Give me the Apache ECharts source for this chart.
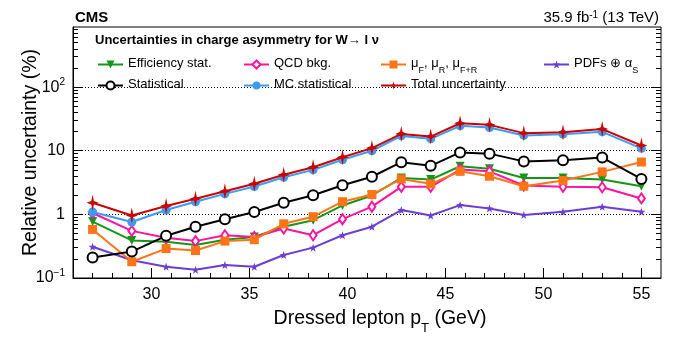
<!DOCTYPE html>
<html><head><meta charset="utf-8">
<script src="https://cdn.jsdelivr.net/npm/echarts@6/dist/echarts.min.js"></script>
<style>html,body{margin:0;padding:0;background:#fff}#c{width:689px;height:339px}</style>
</head><body><div id="c"></div>
<script>
const ptBins = [27, 29, 30.75, 32.25, 33.75, 35.25, 36.75, 38.25, 39.75, 41.25, 42.75, 44.25, 45.75, 47.25, 49, 51, 53, 55];
const effStat = [0.77, 0.39, 0.37, 0.33, 0.40, 0.44, 0.64, 0.81, 1.38, 1.98, 3.74, 3.52, 5.7, 5.2, 3.74, 3.74, 3.52, 2.77];
const qcdBkg = [1.05, 0.55, 0.43, 0.38, 0.47, 0.44, 0.60, 0.47, 0.84, 1.32, 2.71, 2.71, 5.05, 4.75, 2.84, 2.71, 2.67, 1.78];
const scaleUnc = [0.58, 0.18, 0.29, 0.27, 0.38, 0.40, 0.71, 0.92, 1.58, 2.05, 3.6, 3.02, 4.75, 3.97, 2.77, 3.4, 4.65, 6.65];
const pdfUnc = [0.31, 0.19, 0.15, 0.135, 0.16, 0.15, 0.23, 0.30, 0.47, 0.64, 1.17, 0.96, 1.4, 1.24, 0.98, 1.1, 1.32, 1.1];
const statUnc = [0.21, 0.26, 0.46, 0.64, 0.84, 1.09, 1.52, 2.0, 2.87, 3.9, 6.6, 5.8, 9.4, 9.0, 6.8, 7.1, 7.8, 3.6];
const mcStat = [1.09, 0.76, 1.17, 1.58, 2.1, 2.74, 3.83, 5.0, 7.2, 10, 17.1, 15.4, 24.6, 23.2, 17.4, 18.2, 19.8, 10.9];
const totalUnc = [1.52, 0.96, 1.35, 1.76, 2.31, 3.02, 4.2, 5.5, 7.9, 11, 18.4, 16.7, 27, 25.5, 18.9, 19.6, 21.9, 12.1];

const xMajor = [30, 35, 40, 45, 50, 55];
const xMinor = [27,28,29,31,32,33,34,36,37,38,39,41,42,43,44,46,47,48,49,51,52,53,54];
const yMajor = [0.1, 1, 10, 100];
const yMinor = [0.2,0.3,0.4,0.5,0.6,0.7,0.8,0.9,2,3,4,5,6,7,8,9,20,30,40,50,60,70,80,90,200,300,400,500,600,700,800];
const yLabelText = {0.1: '{b|10}{s|−1}', 1: '{b|1}', 10: '{b|10}', 100: '{b|10}{s|2}'};

const FONT = 'Liberation Sans';
const YMIN = 0.1, YMAX = 880, XMIN = 26, XMAX = 56;

const STAR5 = 'path://M0,-10 L2.35,-3.24 L9.51,-3.09 L3.8,1.24 L5.88,8.09 L0,4 L-5.88,8.09 L-3.8,1.24 L-9.51,-3.09 L-2.35,-3.24 Z';
const STAR4 = 'path://M0,-10 L2.2,-2.2 L10,0 L2.2,2.2 L0,10 L-2.2,2.2 L-10,0 L-2.2,-2.2 Z';

const seriesDefs = [
  {name: 'Efficiency stat.', data: effStat, color: '#14961a', symbol: 'triangle', size: 9, rotate: 180, z: 3},
  {name: 'QCD bkg.', data: qcdBkg, color: '#ff14a0', symbol: 'emptyDiamond', size: [7, 10], z: 3},
  {name: 'scale', data: scaleUnc, color: '#ff7418', symbol: 'rect', size: 9, z: 4},
  {name: 'pdf', data: pdfUnc, color: '#6a3fd2', symbol: STAR5, size: 8, z: 3},
  {name: 'Statistical', data: statUnc, color: '#000000', symbol: 'emptyCircle', size: 10, z: 5},
  {name: 'MC statistical', data: mcStat, color: '#3d9cf2', symbol: 'circle', size: 9, z: 6},
  {name: 'Total uncertainty', data: totalUnc, color: '#cc0000', symbol: STAR4, size: [12, 16], z: 7}
];

const series = seriesDefs.map(d => ({
  name: d.name, type: 'line', xAxisIndex: 0, yAxisIndex: 0,
  data: ptBins.map((x, i) => [x, d.data[i]]),
  symbol: d.symbol, symbolSize: d.size, symbolRotate: d.rotate || 0,
  showSymbol: true, z: d.z, animation: false,
  lineStyle: {color: d.color, width: 2},
  itemStyle: {color: d.color, borderColor: d.color, borderWidth: d.symbol.indexOf('empty') === 0 ? 1.1 : 0},
  emphasis: {disabled: true}
}));

const legendFmt = {
  'scale': '{m|μ}{s|F}{m|, μ}{s|R}{m|, μ}{s|F+R}',
  'pdf': '{m|PDFs ⊕ α}{s|S}'
};
const legendPos = [
  ['Efficiency stat.', 92, 61], ['QCD bkg.', 238, 61], ['scale', 375, 61], ['pdf', 538, 61],
  ['Statistical', 92, 82], ['MC statistical', 238, 82], ['Total uncertainty', 375, 82]
];
const legends = legendPos.map(([n, x, y]) => ({
  data: [n], left: x, top: y - 9, itemWidth: 25, itemHeight: 10, itemGap: 0,
  selectedMode: false,
  formatter: legendFmt[n] ? () => legendFmt[n] : '{m|{name}}',
  textStyle: {
    fontFamily: FONT, color: '#000', fontSize: 13,
    rich: {
      m: {fontFamily: FONT, fontSize: 13, color: '#000', lineHeight: 15, verticalAlign: 'top'},
      s: {fontFamily: FONT, fontSize: 9, color: '#000', lineHeight: 9, padding: [9, 0, 0, 0], verticalAlign: 'top'}
    }
  }
}));

function tickAxis(pos, values, len, extra) {
  return Object.assign({
    type: pos === 'left' || pos === 'right' ? 'log' : 'value',
    position: pos, gridIndex: 0,
    axisLine: {show: false}, axisLabel: {show: false}, splitLine: {show: false},
    axisTick: {show: true, inside: true, length: len, customValues: values, lineStyle: {color: '#000', width: 1}},
    silent: true
  }, extra);
}

const option = {
  animation: false,
  backgroundColor: '#fff',
  grid: {left: 73, right: 28, top: 27, bottom: 61, outerBoundsMode: 'none', containLabel: false,
    show: true, borderColor: '#000', borderWidth: 1, backgroundColor: 'transparent'},
  title: [
    {text: 'CMS', left: 70, top: 5, textStyle: {fontFamily: FONT, fontWeight: 'bold', fontSize: 15, color: '#000'}},
    {text: '{a|35.9 fb}{s|-1}{a| (13 TeV)}', right: 25, top: 5,
      textStyle: {fontWeight: 'normal', rich: {
        a: {fontFamily: FONT, fontSize: 15, fontWeight: 'normal', color: '#000', lineHeight: 18, verticalAlign: 'top'},
        s: {fontFamily: FONT, fontSize: 10, fontWeight: 'normal', color: '#000', lineHeight: 10, verticalAlign: 'top'}
      }}},
    {text: 'Uncertainties in charge asymmetry for W→ l ν', left: 90, top: 29,
      textStyle: {fontFamily: FONT, fontWeight: 'bold', fontSize: 13, color: '#000'}}
  ],
  legend: legends,
  xAxis: [
    {
      type: 'value', min: XMIN, max: XMAX, position: 'bottom', gridIndex: 0,
      name: '{n|Dressed lepton p}{t|T}{n| (GeV)}', nameLocation: 'middle', nameGap: 31, nameMoveOverlap: false,
      nameTextStyle: {padding: [0, 0, 0, 26], rich: {
        n: {fontFamily: FONT, fontSize: 19.5, color: '#000', lineHeight: 22, verticalAlign: 'top'},
        t: {fontFamily: FONT, fontSize: 13, color: '#000', lineHeight: 13, padding: [13, 0, 0, 0], verticalAlign: 'top'}
      }},
      axisLine: {show: true, lineStyle: {color: '#000', width: 1}},
      axisTick: {show: true, inside: true, length: 10, customValues: xMajor, lineStyle: {color: '#000'}},
      axisLabel: {customValues: xMajor, fontFamily: FONT, fontSize: 16, color: '#000', margin: 9},
      splitLine: {show: false}
    },
    tickAxis('bottom', xMinor, 5, {min: XMIN, max: XMAX})
  ],
  yAxis: [
    {
      type: 'log', logBase: 10, min: YMIN, max: YMAX, position: 'left', gridIndex: 0,
      name: 'Relative uncertainty (%)', nameLocation: 'middle', nameGap: 32, nameMoveOverlap: false,
      nameTextStyle: {fontFamily: FONT, fontSize: 19.5, color: '#000'},
      axisLine: {show: true, lineStyle: {color: '#000', width: 1}},
      axisTick: {show: true, inside: true, length: 10, customValues: yMajor, lineStyle: {color: '#000'}},
      axisLabel: {customValues: yMajor, margin: 8, formatter: v => yLabelText[v] || '',
        rich: {
          b: {fontFamily: FONT, fontSize: 16, color: '#000', lineHeight: 20},
          s: {fontFamily: FONT, fontSize: 10, color: '#000', lineHeight: 10, verticalAlign: 'top'}
        }},
      splitLine: {show: true, lineStyle: {color: '#000', width: 1, type: [1, 2]}}
    },
    tickAxis('left', yMinor, 5, {min: YMIN, max: YMAX, logBase: 10}),
    tickAxis('right', yMajor, 10, {min: YMIN, max: YMAX, logBase: 10}),
    tickAxis('right', yMinor, 5, {min: YMIN, max: YMAX, logBase: 10})
  ],
  series: series
};

const chart = echarts.init(document.getElementById('c'), null, {renderer: 'canvas'});
chart.setOption(option);
</script></body></html>
